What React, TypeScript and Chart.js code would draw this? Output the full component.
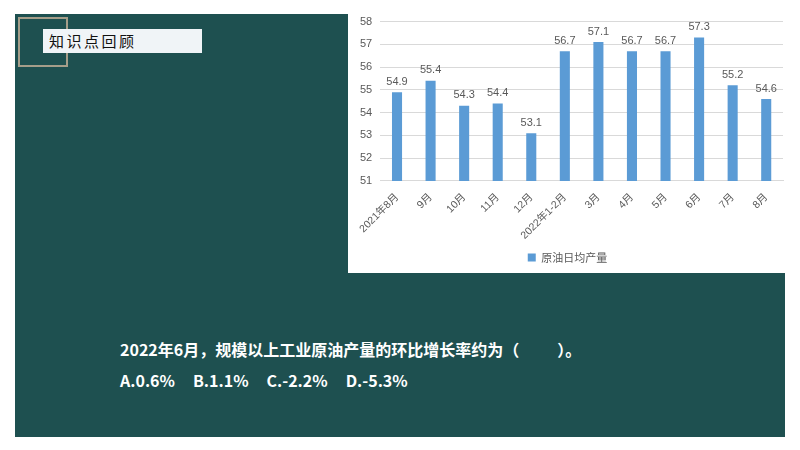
import { useEffect, useRef } from 'react';
import { Chart, registerables } from 'chart.js';

Chart.register(...registerables);

const months = ['2021年8月', '9月', '10月', '11月', '12月', '2022年1-2月', '3月', '4月', '5月', '6月', '7月', '8月'];
const dailyOutput = [54.9, 55.4, 54.3, 54.4, 53.1, 56.7, 57.1, 56.7, 56.7, 57.3, 55.2, 54.6];
const seriesName = '原油日均产量';
const options = ['A.0.6%', 'B.1.1%', 'C.-2.2%', 'D.-5.3%'];

const CJK = '"Noto Sans CJK SC", "Noto Sans", sans-serif';
const MIXED = '"Liberation Sans", "Noto Sans CJK SC", sans-serif';

// draws the value above each bar
const barValues = {
  id: 'barValues',
  afterDatasetsDraw(chart: any) {
    const ctx = chart.ctx;
    const meta = chart.getDatasetMeta(0);
    ctx.save();
    ctx.fillStyle = '#595959';
    ctx.font = '11px "Liberation Sans", sans-serif';
    ctx.textAlign = 'center';
    ctx.textBaseline = 'bottom';
    meta.data.forEach((bar: any, i: number) => {
      ctx.fillText(String(chart.data.datasets[0].data[i]), bar.x, bar.y - 5);
    });
    ctx.restore();
  },
};

export default function App() {
  const canvasRef = useRef<HTMLCanvasElement>(null);

  useEffect(() => {
    if (!canvasRef.current) return;
    const chart = new Chart(canvasRef.current, {
      type: 'bar',
      data: {
        labels: months,
        datasets: [
          {
            label: seriesName,
            data: dailyOutput,
            backgroundColor: '#5b9bd5',
            barPercentage: 0.6,
            categoryPercentage: 0.5,
          },
        ],
      },
      options: {
        animation: false,
        responsive: true,
        maintainAspectRatio: false,
        layout: { padding: { top: 4, right: 2, left: 4, bottom: 0 } },
        plugins: {
          legend: {
            position: 'bottom',
            labels: {
              boxWidth: 8,
              boxHeight: 8,
              color: '#595959',
              font: { size: 11, family: CJK },
              padding: 8,
            },
          },
          tooltip: { enabled: false },
        },
        scales: {
          y: {
            min: 51,
            max: 58,
            ticks: { stepSize: 1, color: '#595959', font: { size: 11, family: '"Liberation Sans", sans-serif' }, padding: 8 },
            grid: { color: '#d9d9d9', drawTicks: false },
            border: { display: false },
          },
          x: {
            grid: { display: false },
            border: { color: '#d9d9d9' },
            ticks: {
              color: '#595959',
              font: { size: 10.5, family: MIXED },
              minRotation: 45,
              maxRotation: 45,
              autoSkip: false,
              padding: 2,
            },
          },
        },
      },
      plugins: [barValues],
    });
    return () => chart.destroy();
  }, []);

  return (
    <div style={{ position: 'fixed', left: 0, top: 0, width: 800, height: 450, background: '#ffffff', overflow: 'hidden' }}>
      <div style={{ position: 'absolute', left: 15, top: 14, width: 770, height: 423, background: '#1e5050' }} />
      <div style={{ position: 'absolute', left: 18, top: 17, width: 46, height: 46, border: '2px solid #a59e8a' }} />
      <div
        style={{
          position: 'absolute',
          left: 43,
          top: 29,
          width: 159,
          height: 24,
          background: '#f0f4f7',
          color: '#111',
          fontFamily: CJK,
          fontSize: 15,
          letterSpacing: 2.5,
          lineHeight: '24px',
          paddingLeft: 6,
          boxSizing: 'border-box',
        }}
      >
        知识点回顾
      </div>
      <div style={{ position: 'absolute', left: 348, top: 0, width: 437, height: 273, background: '#ffffff' }}>
        <div style={{ position: 'absolute', left: 0, top: 7, width: 437, height: 266 }}>
          <canvas ref={canvasRef}></canvas>
        </div>
      </div>
      <div
        style={{
          position: 'absolute',
          left: 120,
          top: 334,
          color: '#ffffff',
          fontFamily: CJK,
          fontWeight: 700,
          fontSize: 16,
          lineHeight: '31px',
          whiteSpace: 'nowrap',
        }}
      >
        <div>
          2022年6月，规模以上工业原油产量的环比增长率约为（<span style={{ display: 'inline-block', width: 38 }} />）。
        </div>
        <div>
          {options.map((o) => (
            <span key={o} style={{ display: 'inline-block', marginRight: 18 }}>
              {o}
            </span>
          ))}
        </div>
      </div>
    </div>
  );
}
